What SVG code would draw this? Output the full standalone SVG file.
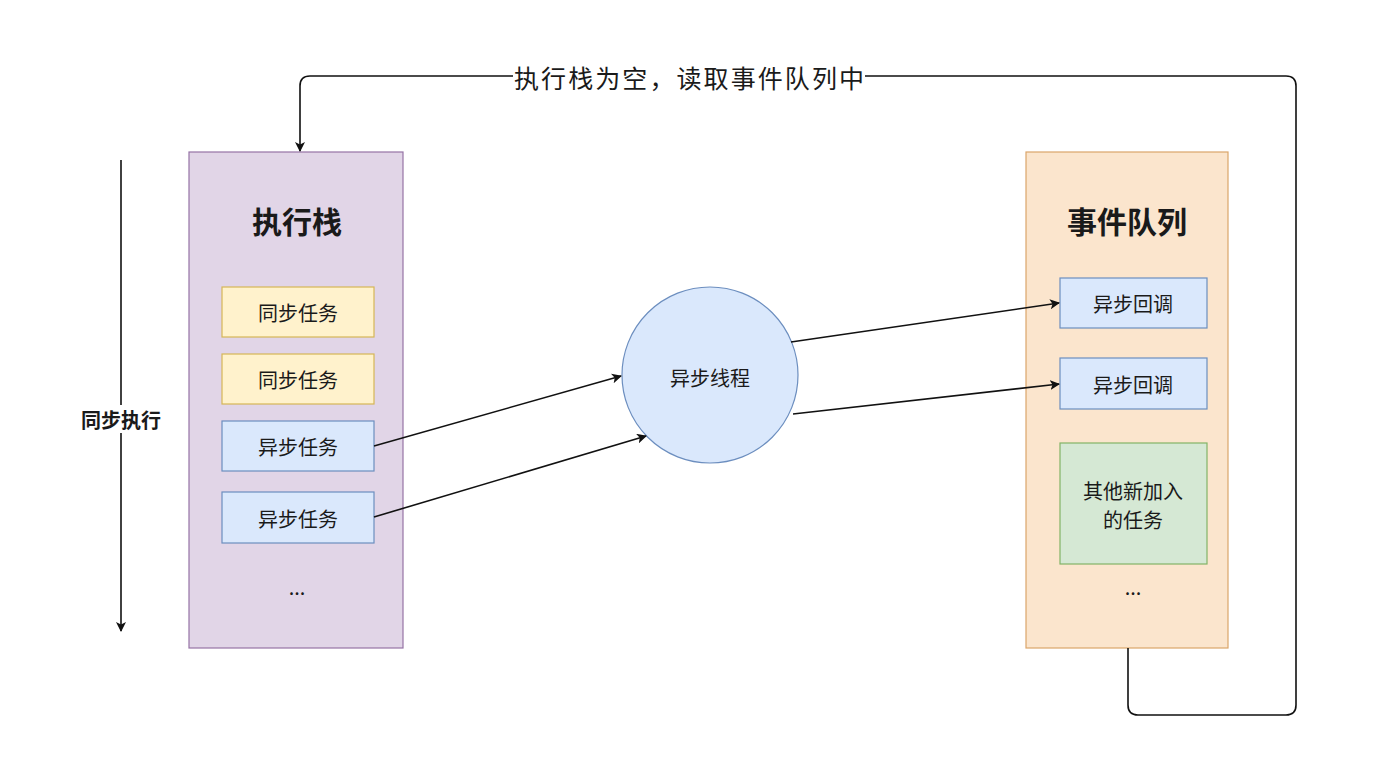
<svg xmlns="http://www.w3.org/2000/svg" width="1388" height="768" viewBox="0 0 1388 768">
<style>
text{font-family:"Noto Sans CJK SC","Liberation Sans",sans-serif;fill:#1a1a1a;text-anchor:middle;dominant-baseline:central}
.t{font-size:20px}
.title{font-size:30px;font-weight:bold}
.sync{fill:#fff2cc;stroke:#d6b656;stroke-width:1.2}
.async{fill:#dae8fc;stroke:#6c8ebf;stroke-width:1.2}
.ln{fill:none;stroke:#111;stroke-width:1.6}
</style>
<defs>
<marker id="ah" viewBox="0 0 10 10" refX="9" refY="5" markerWidth="10" markerHeight="10" markerUnits="userSpaceOnUse" orient="auto">
<path d="M0,0 L10,5 L0,10 L2.5,5 Z" fill="#111"/>
</marker>
</defs>
<rect width="1388" height="768" fill="#fff"/>
<g id="stack">
<rect x="189" y="152" width="214" height="496" fill="#e1d5e7" stroke="#9673a6" stroke-width="1.2"/>
<text class="title" x="297" y="220">执行栈</text>
</g>
<g id="sync1"><rect class="sync" x="222" y="287" width="152" height="50"/><text class="t" x="298" y="312">同步任务</text></g>
<g id="sync2"><rect class="sync" x="222" y="354" width="152" height="50"/><text class="t" x="298" y="379">同步任务</text></g>
<g id="async1"><rect class="async" x="222" y="421" width="152" height="50"/><text class="t" x="298" y="446">异步任务</text></g>
<g id="async2"><rect class="async" x="222" y="492" width="152" height="51"/><text class="t" x="298" y="518">异步任务</text></g>
<g id="dots1"><text class="t" x="297" y="586">...</text></g>
<g id="queue">
<rect x="1026" y="152" width="202" height="496" fill="#fbe5cd" stroke="#dba56a" stroke-width="1.2"/>
<text class="title" x="1127" y="220">事件队列</text>
</g>
<g id="cb1"><rect class="async" x="1060" y="278" width="147" height="50"/><text class="t" x="1133" y="303">异步回调</text></g>
<g id="cb2"><rect class="async" x="1060" y="358" width="147" height="51"/><text class="t" x="1133" y="384">异步回调</text></g>
<g id="other"><rect x="1060" y="443" width="147" height="121" fill="#d5e8d4" stroke="#82b366" stroke-width="1.2"/><text class="t" x="1133" y="490">其他新加入</text><text class="t" x="1133" y="519">的任务</text></g>
<g id="dots2"><text class="t" x="1133" y="586">...</text></g>
<g id="thread">
<circle cx="710" cy="375" r="88" fill="#dae8fc" stroke="#6c8ebf" stroke-width="1.2"/>
<text class="t" x="710" y="377">异步线程</text>
</g>
<g id="connectors">
<line class="ln" x1="374" y1="446" x2="621" y2="376" marker-end="url(#ah)"/>
<line class="ln" x1="374" y1="517" x2="646" y2="436" marker-end="url(#ah)"/>
<line class="ln" x1="791" y1="342" x2="1059" y2="303" marker-end="url(#ah)"/>
<line class="ln" x1="793" y1="414" x2="1059" y2="384" marker-end="url(#ah)"/>
<path class="ln" d="M1128,648 V705 Q1128,715 1138,715 H1286 Q1296,715 1296,705 V86 Q1296,76 1286,76 H310 Q300,76 300,86 V151" marker-end="url(#ah)"/>
<rect x="513" y="62" width="352" height="30" fill="#fff"/>
<text x="689" y="77" textLength="350" lengthAdjust="spacing" style="font-size:25px">执行栈为空，读取事件队列中</text>
<line class="ln" x1="121" y1="160" x2="121" y2="631" marker-end="url(#ah)"/>
<rect x="74" y="405" width="94" height="28" fill="#fff"/>
<text x="121" y="419" style="font-size:20px;font-weight:bold">同步执行</text>
</g>
</svg>
